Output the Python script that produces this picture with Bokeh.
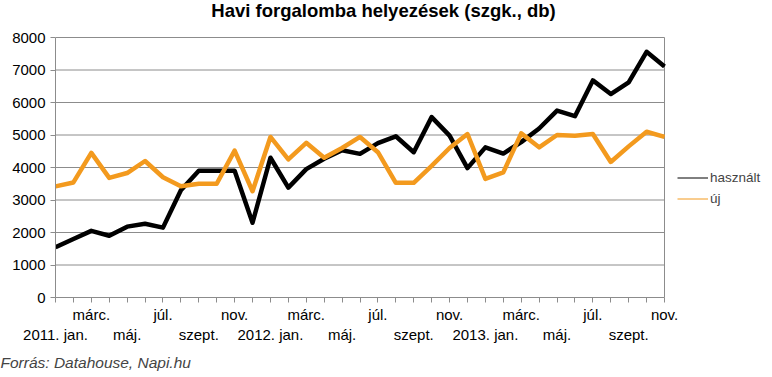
from bokeh.plotting import figure
from bokeh.models import (Range1d, FixedTicker, LinearAxis, Legend, LegendItem,
                          Title, Label)
from bokeh.embed import file_html
from bokeh.resources import INLINE

title_text = "Havi forgalomba helyezések (szgk., db)"
source_text = "Forrás: Datahouse, Napi.hu"
years = ["2011", "2012", "2013"]
month_names = ["jan.", "febr.", "márc.", "ápr.", "máj.", "jún.", "júl.",
               "aug.", "szept.", "okt.", "nov.", "dec."]
series_names = ["használt", "új"]

hasznalt = [1550, 1800, 2050, 1900, 2180, 2270, 2150, 3300, 3900, 3900, 3900, 2300,
            4300, 3380, 3950, 4270, 4530, 4420, 4750, 4960, 4470, 5550, 4980, 3980,
            4620, 4430, 4780, 5200, 5750, 5580, 6680, 6260, 6620, 7560, 7110]
uj = [3420, 3540, 4450, 3680, 3830, 4200, 3700, 3420, 3500, 3500, 4520, 3270,
      4940, 4250, 4760, 4300, 4600, 4940, 4470, 3530, 3530, 4050, 4600, 5030,
      3650, 3850, 5050, 4620, 5000, 4980, 5030, 4170, 4650, 5100, 4940]
y_ticks = [0, 1000, 2000, 3000, 4000, 5000, 6000, 7000, 8000]

n = len(hasznalt)
xs = list(range(n))
labels = []
for i in xs:
    yr, m = divmod(i, 12)
    lab = month_names[m]
    if m == 0:
        lab = f"{years[yr]}. {lab}"
    labels.append(lab)

# layout (pixels)
W, H = 772, 377
LEFT, RIGHT, TOP, BOTTOM = 55, 664, 37, 297
y_max = y_ticks[-1]
x_end = (n - 1) * (W - LEFT) / (RIGHT - LEFT)
y_end = y_max * BOTTOM / (BOTTOM - TOP)

FONT = "Liberation Sans"
GRID = "#8c8c8c"
BLACK = "#000000"
ORANGE = "#F39A1E"

p = figure(width=W, height=H, output_backend="svg", toolbar_location=None,
           x_range=Range1d(0, x_end), y_range=Range1d(0, y_end),
           min_border=0, min_border_left=LEFT, min_border_right=0,
           min_border_top=0, min_border_bottom=H - BOTTOM,
           background_fill_color="white", border_fill_color="white")
p.outline_line_color = None
p.xgrid.visible = False
p.ygrid.visible = False

# grid lines and right border of the plot area
p.segment(x0=xs[0], x1=xs[-1], y0=y_ticks, y1=y_ticks, line_color=GRID, line_width=1)
p.segment(x0=xs[-1], x1=xs[-1], y0=y_ticks[0], y1=y_max, line_color=GRID, line_width=1)

# y axis
ya = p.yaxis[0]
ya.ticker = FixedTicker(ticks=y_ticks)
ya.bounds = (y_ticks[0], y_max)
ya.axis_line_color = GRID
ya.major_tick_line_color = GRID
ya.major_tick_out = 5
ya.major_tick_in = 0
ya.minor_tick_line_color = None
ya.major_label_text_font = FONT
ya.major_label_text_font_size = "15px"
ya.major_label_text_color = "black"
ya.major_label_standoff = 5

# x axis: upper row labels
xa = p.xaxis[0]
xa.ticker = FixedTicker(ticks=xs)
xa.bounds = (xs[0], xs[-1])
xa.major_label_overrides = {i: (labels[i] if i % 4 == 2 else "") for i in xs}
xa.axis_line_color = GRID
xa.major_tick_line_color = GRID
xa.major_tick_out = 5
xa.major_tick_in = 0
xa.minor_tick_line_color = None
xa.major_label_text_font = FONT
xa.major_label_text_font_size = "15px"
xa.major_label_text_color = "black"
xa.major_label_standoff = 3

# lower row labels
low_ticks = [i for i in xs if i % 4 == 0]
xa2 = LinearAxis(ticker=FixedTicker(ticks=low_ticks), bounds=(xs[0], xs[-1]),
                 major_label_overrides={i: labels[i] for i in low_ticks},
                 axis_line_color=None, major_tick_line_color=None,
                 minor_tick_line_color=None, major_tick_out=0, major_tick_in=0,
                 major_label_text_font=FONT, major_label_text_font_size="15px",
                 major_label_text_color="black", major_label_standoff=0)
p.add_layout(xa2, "below")

# thin lines (used for the legend), hidden beneath the thick ones
leg_h = p.line(xs, hasznalt, line_color=BLACK, line_width=1)
leg_u = p.line(xs, uj, line_color=ORANGE, line_width=1)
p.line(xs, hasznalt, line_color=BLACK, line_width=4.5, line_join="round")
p.line(xs, uj, line_color=ORANGE, line_width=4.5, line_join="round")

legend = Legend(items=[LegendItem(label=series_names[0], renderers=[leg_h]),
                       LegendItem(label=series_names[1], renderers=[leg_u])],
                location=(677 - LEFT, BOTTOM - 208.5), padding=0, margin=0,
                spacing=0, glyph_width=31, glyph_height=21, label_height=21,
                label_standoff=2, border_line_color=None,
                background_fill_alpha=0,
                label_text_font=FONT, label_text_font_size="13.5px")
p.add_layout(legend)

p.add_layout(Label(x=383 - LEFT, y=BOTTOM - 10, x_units="screen", y_units="screen",
                   text=title_text, text_align="center", text_baseline="alphabetic",
                   text_font=FONT, text_font_size="18.5px", text_font_style="bold",
                   text_color="black"))

footer = Title(text=source_text, align="left", offset=-LEFT, standoff=13,
               text_font=FONT, text_font_size="15.5px", text_font_style="italic")
p.add_layout(footer, "below")

open("out.html", "w").write(file_html(p, INLINE))
